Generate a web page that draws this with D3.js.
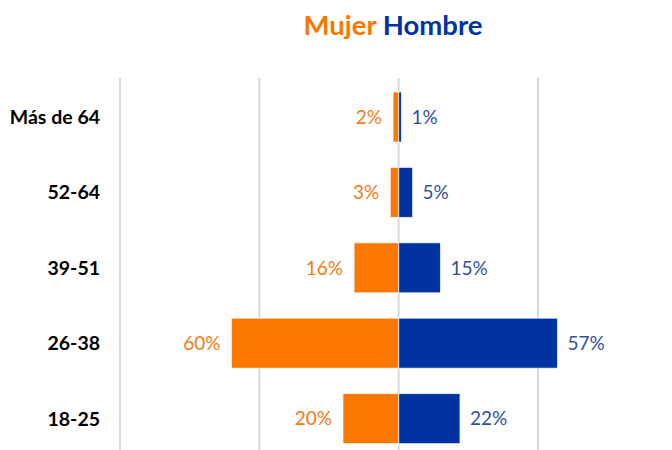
<!DOCTYPE html>
<html>
<head>
<meta charset="utf-8">
<script src="https://cdn.jsdelivr.net/npm/d3@7"></script>
<style>
  html, body { margin: 0; padding: 0; background: #fff; }
  svg { display: block; font-family: Lato, "Open Sans", sans-serif; }
</style>
</head>
<body>
<svg id="chart" width="672" height="450"></svg>
<script>
const categories = ["Más de 64", "52-64", "39-51", "26-38", "18-25"];
const mujer = [2, 3, 16, 60, 20];
const hombre = [1, 5, 15, 57, 22];
const gridTicks = [-100, -50, 0, 50];
const seriesNames = ["Mujer", "Hombre"];

const orange = "#FA7700";
const blue = "#0033A0";
const orangeText = "#F57A12";
const blueText = "#30509E";

const svg = d3.select("#chart");

const x = d3.scaleLinear().domain([-100, 50]).range([120, 538]);
const y = d3.scaleBand().domain(categories).range([79.3, 456.3])
  .paddingInner(0.337).paddingOuter(0.337 / 2);

// gridlines
svg.append("g").selectAll("line").data(gridTicks).join("line")
  .attr("x1", d => x(d)).attr("x2", d => x(d))
  .attr("y1", 78).attr("y2", 450)
  .attr("stroke", "#D9D9D9").attr("stroke-width", 2);

const rows = categories.map((c, i) => ({ cat: c, m: mujer[i], h: hombre[i] }));

// bars
svg.append("g").selectAll("rect").data(rows).join("rect")
  .attr("x", d => x(-d.m)).attr("width", d => x(0) - x(-d.m))
  .attr("y", d => y(d.cat)).attr("height", y.bandwidth())
  .attr("fill", orange).attr("stroke", "#fff").attr("stroke-width", 1).attr("stroke-opacity", 0.7);

svg.append("g").selectAll("rect").data(rows).join("rect")
  .attr("x", x(0)).attr("width", d => x(d.h) - x(0))
  .attr("y", d => y(d.cat)).attr("height", y.bandwidth())
  .attr("fill", blue).attr("stroke", "#fff").attr("stroke-width", 1).attr("stroke-opacity", 0.7);

// value labels
svg.append("g").selectAll("text").data(rows).join("text")
  .attr("x", d => x(-d.m) - 11).attr("y", d => y(d.cat) + y.bandwidth() / 2)
  .attr("dy", "0.36em").attr("text-anchor", "end")
  .attr("font-size", 19).attr("fill", orangeText)
  .text(d => d.m + "%");

svg.append("g").selectAll("text").data(rows).join("text")
  .attr("x", d => x(d.h) + 10).attr("y", d => y(d.cat) + y.bandwidth() / 2)
  .attr("dy", "0.36em").attr("text-anchor", "start")
  .attr("font-size", 19).attr("fill", blueText)
  .text(d => d.h + "%");

// category labels
svg.append("g").selectAll("text").data(categories).join("text")
  .attr("x", 100).attr("y", d => y(d) + y.bandwidth() / 2)
  .attr("dy", "0.36em").attr("text-anchor", "end")
  .attr("font-size", 19.5).attr("font-weight", "bold").attr("fill", "#000")
  .text(d => d);

// title
const title = svg.append("text").attr("x", 393).attr("y", 35)
  .attr("text-anchor", "middle").attr("font-size", 27.5).attr("font-weight", "bold");
title.append("tspan").attr("fill", orange).text(seriesNames[0]);
title.append("tspan").attr("fill", blue).text(" " + seriesNames[1]);
</script>
</body>
</html>
